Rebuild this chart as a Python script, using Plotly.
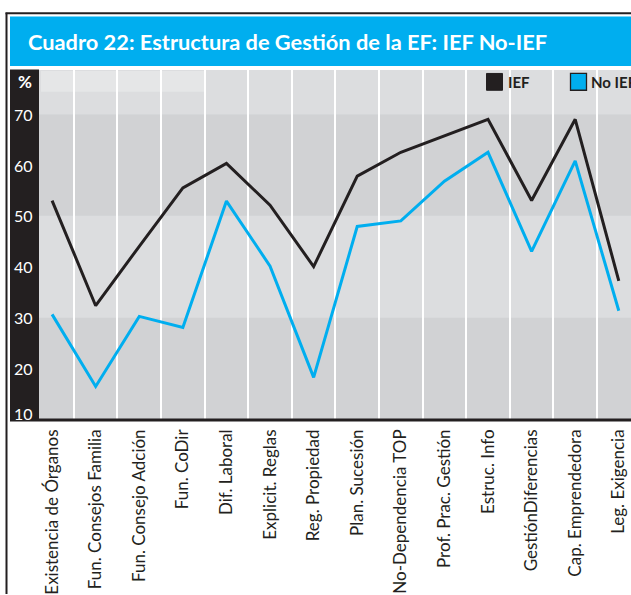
import plotly.graph_objects as go

categories = ["Existencia de Órganos", "Fun. Consejos Familia", "Fun. Consejo Adción",
              "Fun. CoDir", "Dif. Laboral", "Explicit. Reglas", "Reg. Propiedad",
              "Plan. Sucesión", "No-Dependencia TOP", "Prof. Prac. Gestión",
              "Estruc. Info", "GestiónDiferencias", "Cap. Emprendedora", "Leg. Exigencia"]
ief = [53, 32.3, 44, 55.5, 60.3, 52.1, 40, 57.8, 62.5, 65.7, 69, 53, 69, 37.2]
no_ief = [30.6, 16.4, 30.2, 28, 52.9, 40.1, 18.2, 47.9, 49, 56.8, 62.5, 43, 60.8, 31.3]
y_ticks = [10, 20, 30, 40, 50, 60, 70]

W, H = 631, 595
L, T, B = 39, 70, 423
PW, PH = W - L, B - T

def px(x):
    return (x - L) / PW

def py(y):
    return (B - y) / PH

DARK = "#231F20"
BLUE = "#00AEEF"
BAND_L = "#DCDDDF"
BAND_D = "#D1D2D4"

x = list(range(len(categories)))
fig = go.Figure()
fig.add_trace(go.Scatter(x=x, y=ief, mode="lines", name="IEF",
                         line=dict(color=DARK, width=3)))
fig.add_trace(go.Scatter(x=x, y=no_ief, mode="lines", name="No IEF",
                         line=dict(color=BLUE, width=3)))

shapes = []
# bands
for y0, y1, c in [(10, 30, BAND_D), (30, 50, BAND_L), (50, 70, BAND_D), (70, 80, BAND_L)]:
    shapes.append(dict(type="rect", xref="paper", yref="y", x0=0, x1=1, y0=y0, y1=y1,
                       fillcolor=c, line_width=0, layer="below"))
# top-left highlight
shapes.append(dict(type="rect", xref="paper", yref="paper", x0=px(41), x1=px(205),
                   y0=py(92), y1=py(71), fillcolor="#E5E6E7", line_width=0, layer="below"))
# frame
shapes.append(dict(type="line", xref="paper", yref="paper", x0=px(6.5), x1=px(6.5),
                   y0=py(12), y1=py(600), line=dict(color=DARK, width=2)))
shapes.append(dict(type="line", xref="paper", yref="paper", x0=px(5.5), x1=px(640),
                   y0=py(12.5), y1=py(12.5), line=dict(color=DARK, width=2)))
# title bar
shapes.append(dict(type="rect", xref="paper", yref="paper", x0=px(10), x1=px(640),
                   y0=py(66), y1=py(16), fillcolor=BLUE, line_width=0))
# left black strip
shapes.append(dict(type="rect", xref="paper", yref="paper", x0=px(10), x1=px(39),
                   y0=py(425), y1=py(69.5), fillcolor=DARK, line_width=0))
# bottom axis line
shapes.append(dict(type="rect", xref="paper", yref="paper", x0=px(10), x1=px(640),
                   y0=py(425.5), y1=py(422.5), fillcolor=DARK, line_width=0))
# legend squares
shapes.append(dict(type="rect", xref="paper", yref="paper", x0=px(486.5), x1=px(502.5),
                   y0=py(90.5), y1=py(73.5), fillcolor=DARK, line=dict(color=DARK, width=1)))
shapes.append(dict(type="rect", xref="paper", yref="paper", x0=px(570.5), x1=px(586.5),
                   y0=py(90.5), y1=py(73.5), fillcolor=BLUE, line=dict(color=DARK, width=1.3)))

annotations = []
annotations.append(dict(text="Cuadro 22: Estructura de Gestión de la EF: IEF No-IEF",
                        xref="paper", yref="paper", x=px(26), y=py(41.5), xanchor="left",
                        yanchor="middle", showarrow=False,
                        font=dict(family="Lato", size=21.8, color="white", weight="bold")))
annotations.append(dict(text="%", xref="paper", yref="paper", x=px(15.5), y=py(82),
                        xanchor="left", yanchor="middle", showarrow=False,
                        font=dict(family="Lato", size=17, color="white", weight="bold")))
for v in y_ticks:
    annotations.append(dict(text=str(v), xref="paper", yref="y", x=px(34.5), y=v,
                            xanchor="right", yanchor="middle", showarrow=False,
                            yshift=6 if v == 10 else 0,
                            font=dict(family="Lato", size=16, color="white")))
annotations.append(dict(text="IEF", xref="paper", yref="paper", x=px(506), y=py(82.5),
                        xanchor="left", yanchor="middle", showarrow=False,
                        font=dict(family="Lato", size=15, color=DARK, weight="bold")))
annotations.append(dict(text="No IEF", xref="paper", yref="paper", x=px(589), y=py(82.5),
                        xanchor="left", yanchor="middle", showarrow=False,
                        font=dict(family="Lato", size=15, color=DARK, weight="bold")))

fig.update_layout(
    width=W, height=H,
    margin=dict(l=L, r=0, t=T, b=H - B, pad=0),
    paper_bgcolor="white", plot_bgcolor=BAND_L,
    showlegend=False,
    shapes=shapes, annotations=annotations,
    xaxis=dict(range=[-0.3, 13.28], tickvals=x, ticktext=categories, tickangle=-90,
               showgrid=False, zeroline=False, showline=False, ticks="",
               ticklabelstandoff=6,
               tickfont=dict(family="Lato", size=17, color=DARK),
               minor=dict(tickvals=[i + 0.5 for i in range(13)], showgrid=True,
                          gridcolor="white", gridwidth=1.5, ticks="")),
    yaxis=dict(range=[10, 78.7], showgrid=False, zeroline=False, showline=False,
               showticklabels=False, ticks=""),
)
fig.write_html("out.html", config={"displayModeBar": False},
               post_script="document.body.style.margin='0px';document.body.style.overflow='hidden';")
